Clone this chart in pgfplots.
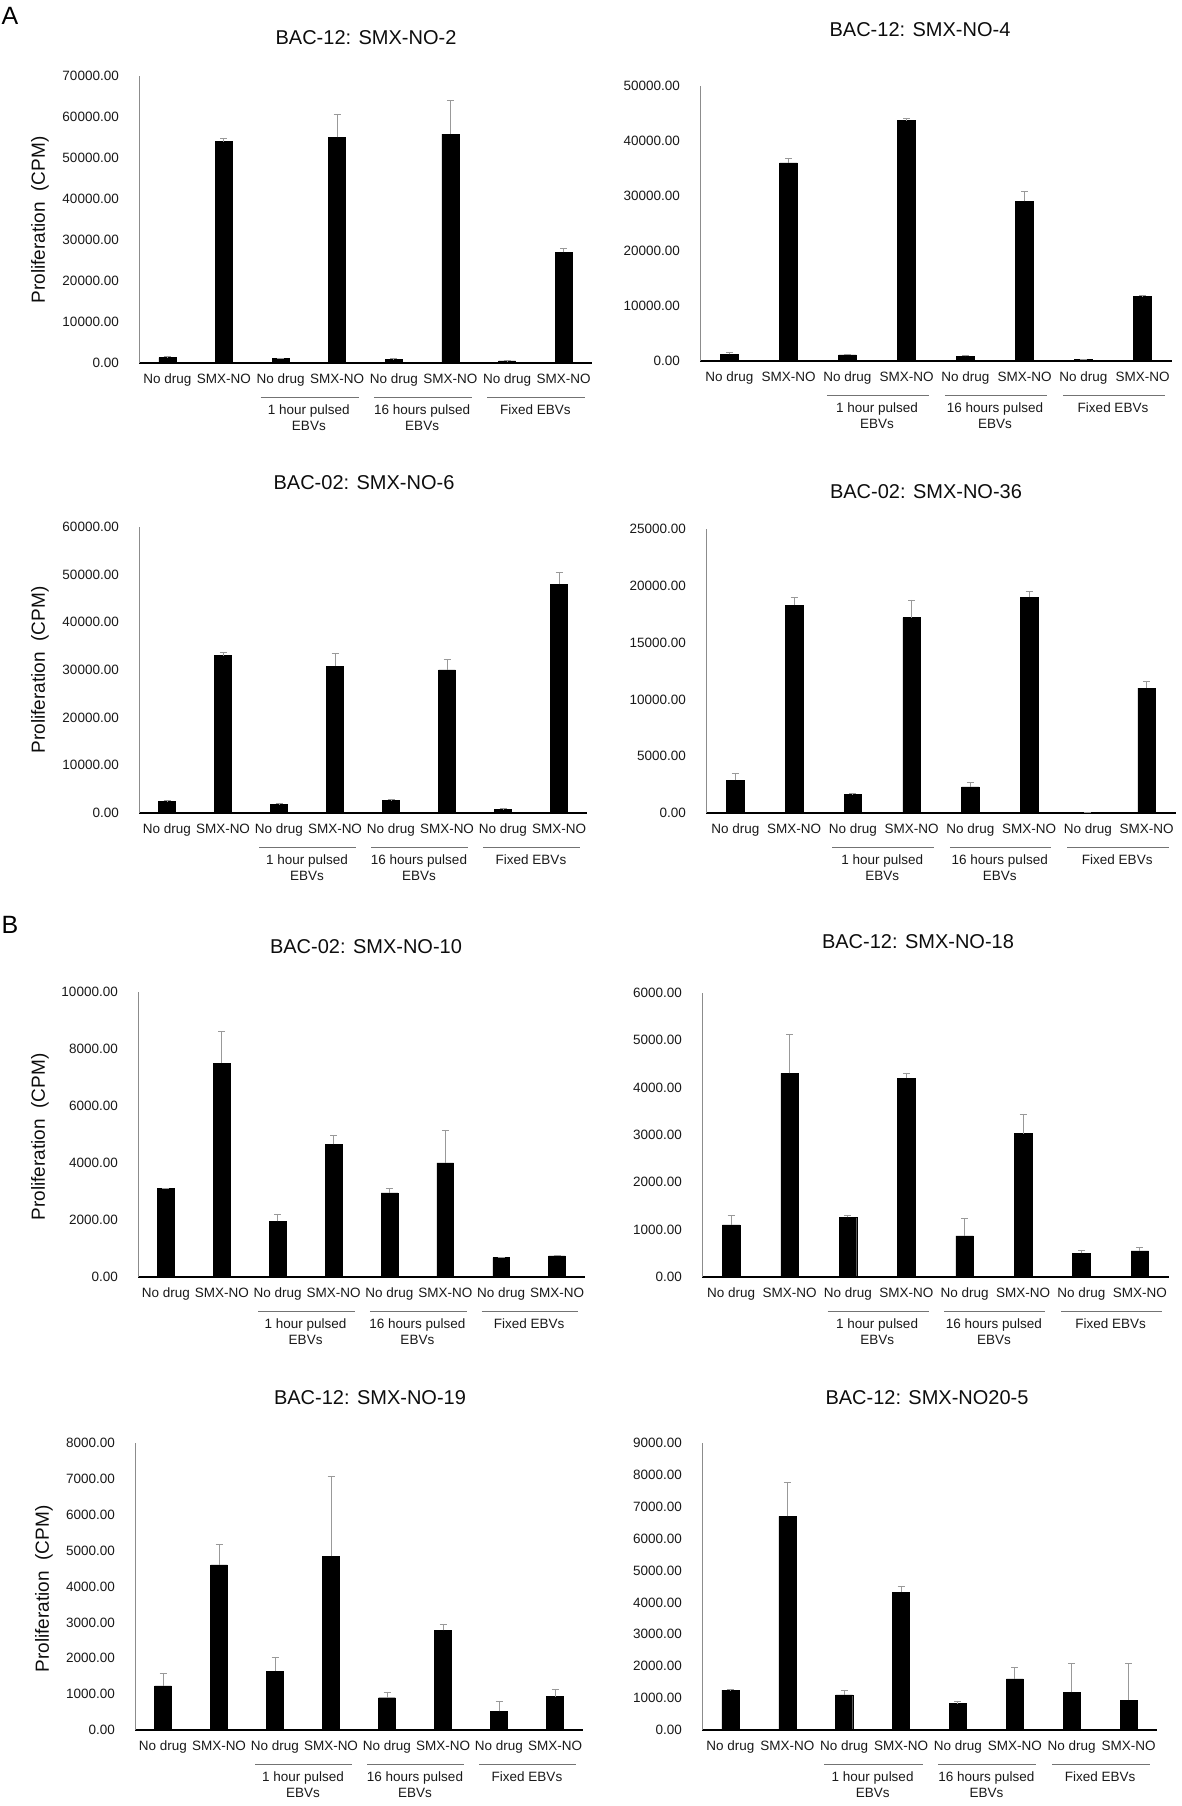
\documentclass[border=0pt]{standalone}
\usepackage{fontspec}
\setmainfont{Liberation Sans}
\usepackage{pgfplots}
\pgfplotsset{compat=1.18}
\pgfplotsset{
  panel/.style={
    scale only axis, anchor=south west,
    axis x line*=bottom, axis y line*=left,
    xmin=-0.5, xmax=7.5, ymin=0,
    xtick={0,...,7},
    xticklabels={No drug,SMX-NO,No drug,SMX-NO,No drug,SMX-NO,No drug,SMX-NO},
    major tick length=0pt,
    bar width=0.3,
    x axis line style={black, line width=1.3pt, -},
    y axis line style={black!45, line width=0.7pt, -},
    tick label style={font=\fontsize{13.5}{16}\selectfont, text=black!90},
    xticklabel style={inner sep=0pt, anchor=north, yshift=-11pt},
    yticklabel style={inner sep=0pt, anchor=east, xshift=-20pt},
    /pgf/number format/.cd, fixed, fixed zerofill, precision=2, 1000 sep={}, assume math mode=true,
    /pgfplots/.cd,
    scaled y ticks=false,
    clip=false,
  },
  bars/.style={
    ybar, fill=black, draw=black, bar shift=0pt,
    error bars/.cd, y dir=plus, y explicit,
    error bar style={black!40, line width=0.9pt},
    error mark options={black!40, mark size=3.5pt, line width=0.9pt, rotate=90},
  },
}
\newcommand{\groups}{%
  \draw[black!55, line width=0.8pt] ([yshift=-34pt]axis cs:1.65,0) -- ([yshift=-34pt]axis cs:3.38,0);
  \draw[black!55, line width=0.8pt] ([yshift=-34pt]axis cs:3.65,0) -- ([yshift=-34pt]axis cs:5.38,0);
  \draw[black!55, line width=0.8pt] ([yshift=-34pt]axis cs:5.65,0) -- ([yshift=-34pt]axis cs:7.38,0);
  \node[font=\fontsize{13.5}{16}\selectfont, text=black!90, align=center, anchor=north, inner sep=0pt] at ([yshift=-42pt]axis cs:2.5,0) {1 hour pulsed\\EBVs};
  \node[font=\fontsize{13.5}{16}\selectfont, text=black!90, align=center, anchor=north, inner sep=0pt] at ([yshift=-42pt]axis cs:4.5,0) {16 hours pulsed\\EBVs};
  \node[font=\fontsize{13.5}{16}\selectfont, text=black!90, align=center, anchor=north, inner sep=0pt] at ([yshift=-42pt]axis cs:6.5,0) {Fixed EBVs};
}
\newcommand{\ttl}[3]{\node[font=\fontsize{20}{24}\selectfont, text=black!95] at (#1pt,#2pt) {#3};}
\newcommand{\ylab}[2]{\node[font=\fontsize{19}{22}\selectfont, text=black!95, rotate=90] at (#1pt,#2pt) {Proliferation\ \ (CPM)};}
\begin{document}
\begin{tikzpicture}
\useasboundingbox (0,0) rectangle (1182pt,1806pt);
\node[font=\fontsize{25}{30}\selectfont] at (10pt,1790pt) {A};
\node[font=\fontsize{25}{30}\selectfont] at (10pt,881pt) {B};
% ---------- A1
\ttl{366}{1768}{BAC-12: SMX-NO-2}
\ylab{40}{1586}
\begin{axis}[panel, at={(139pt,1443pt)}, width=453pt, height=287pt, ymax=70000, ytick={0,10000,...,70000}]
\addplot[bars] coordinates {(0,1300) +- (0,400) (1,54000) +- (0,800) (2,1060) +- (0,120) (3,55000) +- (0,5500) (4,900) +- (0,100) (5,55800) +- (0,8300) (6,500) +- (0,100) (7,27000) +- (0,900)};
\groups
\end{axis}
% ---------- A2
\ttl{920}{1776}{BAC-12: SMX-NO-4}
\begin{axis}[panel, at={(700pt,1445pt)}, width=472pt, height=275pt, ymax=50000, ytick={0,10000,...,50000}]
\addplot[bars] coordinates {(0,1200) +- (0,300) (1,36000) +- (0,900) (2,1100) +- (0,100) (3,43700) +- (0,350) (4,850) +- (0,150) (5,29000) +- (0,1900) (6,300) +- (0,50) (7,11700) +- (0,150)};
\groups
\end{axis}
% ---------- A3
\ttl{364}{1323}{BAC-02: SMX-NO-6}
\ylab{40}{1136}
\begin{axis}[panel, at={(139pt,993pt)}, width=448pt, height=286pt, ymax=60000, ytick={0,10000,...,60000}]
\addplot[bars] coordinates {(0,2500) +- (0,100) (1,33000) +- (0,600) (2,1800) +- (0,100) (3,30800) +- (0,2700) (4,2600) +- (0,150) (5,30000) +- (0,2300) (6,800) +- (0,100) (7,48000) +- (0,2500)};
\groups
\end{axis}
% ---------- A4
\ttl{926}{1314}{BAC-02: SMX-NO-36}
\begin{axis}[panel, at={(706pt,993pt)}, width=470pt, height=284pt, ymax=25000, ytick={0,5000,...,25000}]
\addplot[bars] coordinates {(0,2900) +- (0,600) (1,18300) +- (0,650) (2,1650) +- (0,50) (3,17200) +- (0,1550) (4,2300) +- (0,350) (5,19000) +- (0,500) (6,60) +- (0,30) (7,11000) +- (0,600)};
\groups
\end{axis}
% ---------- B1
\ttl{366}{859}{BAC-02: SMX-NO-10}
\ylab{40}{669}
\begin{axis}[panel, at={(138pt,529pt)}, width=447pt, height=285pt, ymax=10000, ytick={0,2000,...,10000}]
\addplot[bars] coordinates {(0,3100) +- (0,20) (1,7500) +- (0,1100) (2,1950) +- (0,230) (3,4650) +- (0,300) (4,2950) +- (0,150) (5,4000) +- (0,1150) (6,680) +- (0,20) (7,740) +- (0,20)};
\groups
\end{axis}
% ---------- B2
\ttl{918}{864}{BAC-12: SMX-NO-18}
\begin{axis}[panel, at={(702pt,529pt)}, width=467pt, height=284pt, ymax=6000, ytick={0,1000,...,6000}]
\addplot[bars] coordinates {(0,1100) +- (0,200) (1,4300) +- (0,820) (2,1260) +- (0,50) (3,4200) +- (0,110) (4,870) +- (0,370) (5,3030) +- (0,410) (6,500) +- (0,56) (7,550) +- (0,70)};
\groups
\end{axis}
% ---------- B3
\ttl{370}{408}{BAC-12: SMX-NO-19}
\ylab{44}{217}
\begin{axis}[panel, at={(135pt,76pt)}, width=448pt, height=287pt, ymax=8000, ytick={0,1000,...,8000}]
\addplot[bars] coordinates {(0,1230) +- (0,350) (1,4600) +- (0,580) (2,1640) +- (0,380) (3,4850) +- (0,2230) (4,900) +- (0,160) (5,2780) +- (0,160) (6,520) +- (0,270) (7,930) +- (0,190)};
\groups
\end{axis}
% ---------- B4
\ttl{927}{408}{BAC-12: SMX-NO20-5}
\begin{axis}[panel, at={(702pt,76pt)}, width=455pt, height=287pt, ymax=9000, ytick={0,1000,...,9000}]
\addplot[bars] coordinates {(0,1250) +- (0,20) (1,6700) +- (0,1050) (2,1100) +- (0,150) (3,4320) +- (0,180) (4,830) +- (0,80) (5,1600) +- (0,350) (6,1180) +- (0,920) (7,940) +- (0,1150)};
\groups
\end{axis}
\end{tikzpicture}
\end{document}
